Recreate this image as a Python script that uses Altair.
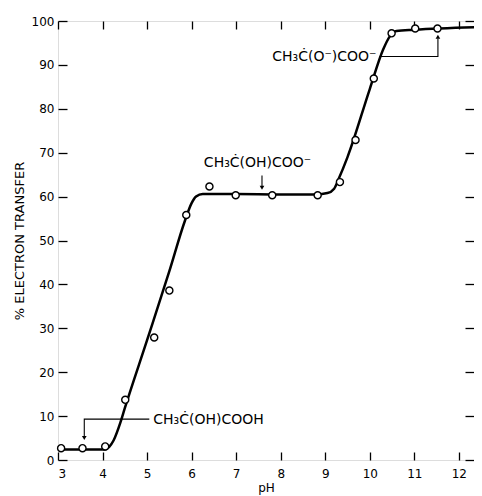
import altair as alt
import pandas as pd

# measured points
pt_ph = [3.07, 3.55, 4.06, 4.51, 5.16, 5.50, 5.88, 6.40, 6.99, 7.81, 8.83, 9.33, 9.68, 10.09, 10.49, 11.02, 11.52]
pt_val = [2.7, 2.7, 3.1, 13.7, 27.9, 38.6, 55.8, 62.3, 60.3, 60.3, 60.3, 63.3, 72.9, 86.9, 97.2, 98.3, 98.3]

# fitted curve
curve_ph = [3.0, 4.05, 4.15, 4.25, 4.4, 4.5, 5.0, 5.5, 5.85, 6.0, 6.1, 6.25, 7.0, 8.0, 8.8, 9.05, 9.2, 9.3,
            9.5, 10.0, 10.3, 10.45, 10.6, 11.0, 12.46]
curve_val = [2.4, 2.4, 3.0, 4.5, 8.5, 11.8, 27.3, 43.0, 54.5, 58.5, 60.0, 60.6, 60.6, 60.5, 60.5, 60.8, 61.8, 64.0,
             69.0, 84.5, 93.5, 96.5, 97.7, 98.0, 98.6]

# annotations
label_text = ["CH₃Ċ(O⁻)COO⁻", "CH₃Ċ(OH)COO⁻", "CH₃Ċ(OH)COOH"]
label_ph = [8.98, 7.48, 6.38]
label_val = [91.9, 67.7, 9.1]

arrow_id = [1, 1, 1, 2, 2, 3, 3, 3]
arrow_ph = [10.22, 11.53, 11.53, 7.58, 7.58, 5.05, 3.59, 3.59]
arrow_val = [91.9, 91.9, 96.0, 64.8, 62.4, 9.3, 9.3, 5.4]
arrow_order = [0, 1, 2, 0, 1, 0, 1, 2]

head_ph = [11.53, 7.58, 3.59]
head_val = [96.4, 62.0, 5.0]
head_shape = ["triangle-up", "triangle-down", "triangle-down"]

x_ticks = [3, 4, 5, 6, 7, 8, 9, 10, 11, 12]
y_ticks = [0, 10, 20, 30, 40, 50, 60, 70, 80, 90, 100]

W, H = 416, 439
FONT = "DejaVu Sans"
TICK = "black"

pts = pd.DataFrame({"ph": pt_ph, "val": pt_val})
curve = pd.DataFrame({"ph": curve_ph, "val": curve_val})
labels = pd.DataFrame({"ph": label_ph, "val": label_val, "t": label_text})
arrows = pd.DataFrame({"ph": arrow_ph, "val": arrow_val, "id": arrow_id, "o": arrow_order})
heads = pd.DataFrame({"ph": head_ph, "val": head_val, "shape": head_shape})

xs = alt.Scale(domain=[3, 12.34], nice=False, zero=False)
ys = alt.Scale(domain=[0, 100], nice=False)

line = alt.Chart(curve).mark_line(color="black", strokeWidth=2.5, interpolate="monotone", clip=True).encode(
    x=alt.X("ph:Q", scale=xs, axis=alt.Axis(orient="bottom", values=x_ticks, format="d", ticks=False, tickSize=0,
                                            domain=False, labelPadding=8, title="pH", titlePadding=3,
                                            labelFontSize=12, titleFontSize=12, titleFontWeight="normal",
                                            labelFont=FONT, titleFont=FONT, labelColor="black", titleColor="black",
                                            grid=False)),
    y=alt.Y("val:Q", scale=ys, axis=alt.Axis(orient="left", values=y_ticks, format="d", ticks=False, tickSize=0,
                                             domain=False, labelPadding=4, title="% ELECTRON TRANSFER",
                                             titlePadding=5, labelFontSize=12, titleFontSize=13,
                                             titleFontWeight="normal", labelFont=FONT, titleFont=FONT,
                                             labelColor="black", titleColor="black", grid=False)),
)

points = alt.Chart(pts).mark_point(shape="circle", size=50, filled=True, fill="white", stroke="black",
                                   strokeWidth=1.4, opacity=1).encode(
    x=alt.X("ph:Q", scale=xs, axis=alt.Axis(orient="top", offset=-H, values=x_ticks, labels=False, tickSize=8,
                                            tickWidth=1.3, tickColor=TICK, domain=False, title=None, grid=False)),
    y=alt.Y("val:Q", scale=ys, axis=alt.Axis(orient="right", offset=-W, values=y_ticks, labels=False, tickSize=9,
                                             tickWidth=1.3, tickColor=TICK, domain=False, title=None, grid=False)),
)

text = alt.Chart(labels).mark_text(font=FONT, fontSize=14, color="black", align="center", baseline="middle").encode(
    x=alt.X("ph:Q", scale=xs, axis=alt.Axis(orient="bottom", offset=-H, values=x_ticks, labels=False, tickSize=8,
                                            tickWidth=1.3, tickColor=TICK, domain=False, title=None, grid=False)),
    y=alt.Y("val:Q", scale=ys, axis=alt.Axis(orient="left", offset=-W, values=y_ticks, labels=False, tickSize=9,
                                             tickWidth=1.3, tickColor=TICK, domain=False, title=None, grid=False)),
    text="t:N",
)

arrow_lines = alt.Chart(arrows).mark_line(color="black", strokeWidth=1.1).encode(
    x=alt.X("ph:Q", scale=xs, axis=None),
    y=alt.Y("val:Q", scale=ys, axis=None),
    detail="id:N",
    order="o:Q",
)

arrow_heads = alt.Chart(heads).mark_point(filled=True, color="black", size=22, opacity=1).encode(
    x=alt.X("ph:Q", scale=xs, axis=None),
    y=alt.Y("val:Q", scale=ys, axis=None),
    shape=alt.Shape("shape:N", scale=None),
)

chart = alt.layer(line, arrow_lines, arrow_heads, points, text).resolve_axis(
    x="independent", y="independent"
).properties(
    width=W, height=H,
    autosize=alt.AutoSizeParams(type="none"),
    padding={"left": 50, "top": 13, "right": 0, "bottom": 36},
).configure_view(stroke="black", strokeWidth=2.2).configure(background="white")

chart.save("out.html", embed_options={"renderer": "svg", "actions": False})
